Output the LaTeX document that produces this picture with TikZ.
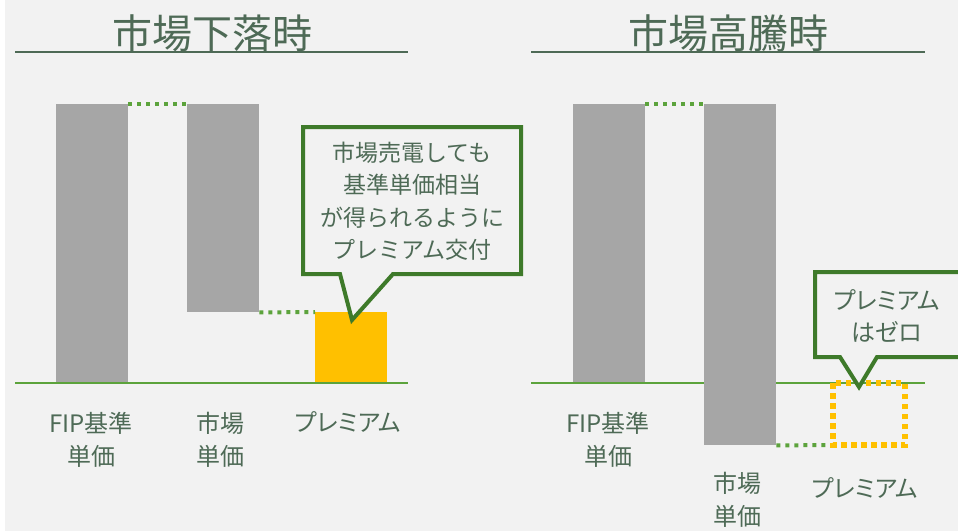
\documentclass[tikz,border=0pt]{standalone}
\usepackage{fontspec}
\setmainfont{Noto Sans CJK JP}
\newfontfamily\paltfont[RawFeature=+palt]{Noto Sans CJK JP}
\begin{document}
\begin{tikzpicture}[x=1pt,y=-1pt,
  txt/.style={text=txtc,font=\fontsize{23}{32.5}\selectfont,align=center,inner sep=0pt},
  ptxt/.style={text=txtc,font=\paltfont\fontsize{24}{32}\selectfont,align=center,inner sep=0pt},
  lbl/.style={text=txtc,font=\paltfont\fontsize{24}{33}\selectfont,align=center,inner sep=0pt},
  ttl/.style={text=txtc,font=\fontsize{40}{44}\selectfont,inner sep=0pt},
  bar/.style={fill=barg,draw=none},
  dotg/.style={draw=dotgc,line width=4pt,dash pattern=on 4pt off 5pt},
  doty/.style={draw=yel,line width=5.5pt,dash pattern=on 5.5pt off 4.5pt},
  callout/.style={draw=cgreen,line width=4pt,fill=bg,line join=miter},
  base/.style={draw=basec,line width=2.5pt},
  uline/.style={draw=txtc,line width=2.5pt}]
\definecolor{bg}{RGB}{242,242,242}
\definecolor{txtc}{RGB}{78,106,86}
\definecolor{barg}{RGB}{166,166,166}
\definecolor{dotgc}{RGB}{92,163,60}
\definecolor{basec}{RGB}{92,163,60}
\definecolor{yel}{RGB}{255,192,0}
\definecolor{cgreen}{RGB}{62,122,42}
\useasboundingbox (0,0) rectangle (958,531);
\clip (0,0) rectangle (958,531);
\fill[white] (0,0) rectangle (958,531);
\fill[bg] (5,0) rectangle (958,531);

% titles
\node[ttl] (t1) at (212,33) {市場下落時};
\node[ttl] (t2) at (728,33) {市場高騰時};
\draw[uline] (15,52) -- (408,52);
\draw[uline] (531,52) -- (925,52);

% left panel bars
\node[bar,minimum width=72pt,minimum height=279pt,inner sep=0pt,anchor=north west] (fip1) at (56,104) {};
\node[bar,minimum width=72pt,minimum height=208pt,inner sep=0pt,anchor=north west] (mkt1) at (187,104) {};
\node[fill=yel,minimum width=72pt,minimum height=71pt,inner sep=0pt,anchor=north west] (prm1) at (315,312) {};
\draw[base] (15,383) -- (408,383);
\draw[dotg] (fip1.north east) -- (mkt1.north west);
\draw[dotg] (mkt1.south east) -- (prm1.north west);

% right panel bars
\node[bar,minimum width=72pt,minimum height=279pt,inner sep=0pt,anchor=north west] (fip2) at (573,104) {};
\draw[base] (531,383) -- (925,383);
\node[bar,minimum width=72pt,minimum height=341pt,inner sep=0pt,anchor=north west] (mkt2) at (704,104) {};
\coordinate (p2nw) at (833,383);
\coordinate (p2se) at (905,445);
\draw[dotg] (fip2.north east) -- (mkt2.north west);
\draw[dotg] (mkt2.south east) -- (833,445);
\draw[doty] (p2nw) rectangle (p2se);

% labels
\node[lbl] (l1) at (91,440) {FIP基準\\単価};
\node[lbl] (l2) at (220,440) {市場\\単価};
\node[lbl,anchor=north] (l3) at (348,411) {プレミアム};
\node[lbl] (l4) at (608,440) {FIP基準\\単価};
\node[lbl] (l5) at (737,500) {市場\\単価};
\node[lbl] (l6) at (865,488) {プレミアム};

% callout 1
\draw[callout] (303,127) -- (521,127) -- (521,274) -- (393,274) -- (352,320) -- (340,274) -- (303,274) -- cycle;
\node[txt] (c1) at (412,201) {市場売電しても\\基準単価相当\\が得られるように\\プレミアム交付};

% callout 2
\draw[callout] (815,272) -- (980,272) -- (980,357) -- (877,357) -- (859,387) -- (840,357) -- (815,357) -- cycle;
\node[ptxt] (c2) at (887,316) {プレミアム\\はゼロ};
\end{tikzpicture}
\end{document}
